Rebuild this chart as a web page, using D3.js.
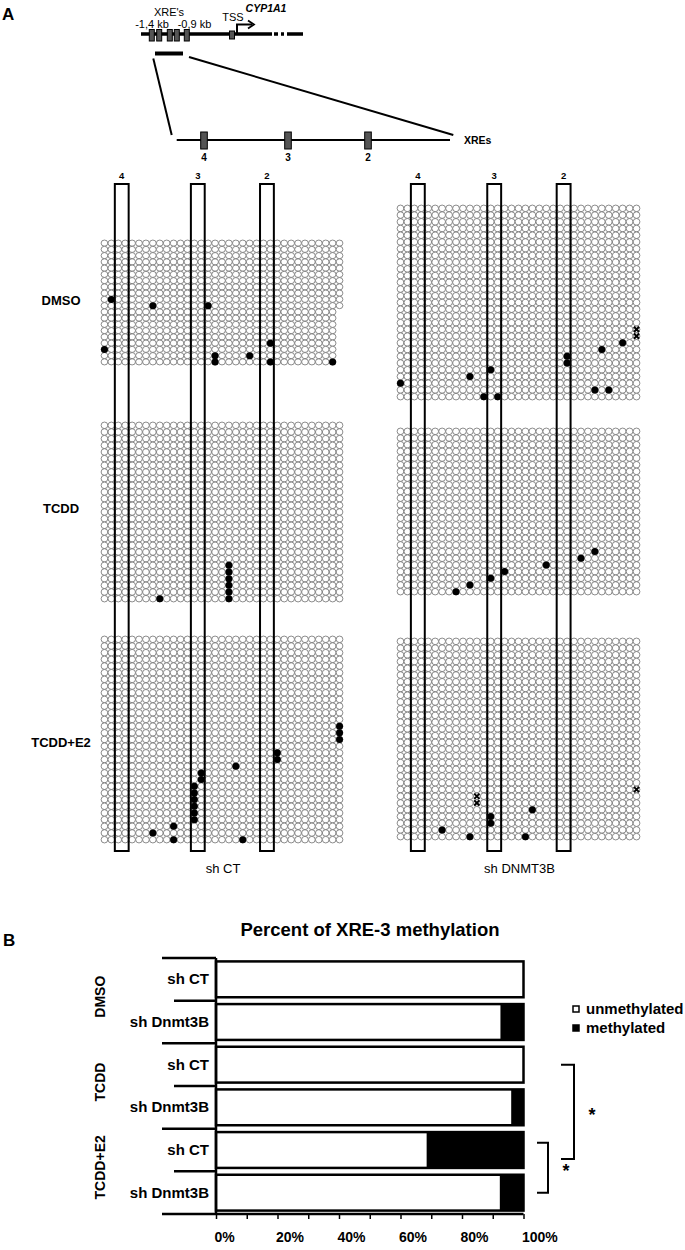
<!DOCTYPE html>
<html>
<head>
<meta charset="utf-8">
<script src="https://cdn.jsdelivr.net/npm/d3@7"></script>
<style>
  body { margin: 0; background: #fff; }
  text { font-family: "Liberation Sans", Arial, sans-serif; }
  .narrow { font-family: "Liberation Sans Narrow", "Liberation Sans", Arial, sans-serif; font-weight: bold; }
</style>
</head>
<body>
<script>
// ---------- data ----------
const treatments = ["DMSO", "TCDD", "TCDD+E2"];
const panelLines = ["sh CT", "sh DNMT3B"];
const xreSites = ["4", "3", "2"];
const xreCols = [[2, 3], [13, 14], [23, 24]];   // CpG columns inside each XRE box
const cpgCols = 35;

// number of sequenced clones (rows) per grid: [DMSO, TCDD, TCDD+E2]
const rowsShCt = [20, 27, 31];
const rowsShDn = [29, 25, 30];
const shCtDmsoShortFrom = 11;   // clones from this row on miss the last CpG

// methylated CpGs as [column, row]
const shCtDmso = [[1, 9], [7, 10], [15, 10], [0, 17], [16, 18], [16, 19], [21, 18], [24, 16], [24, 19], [33, 19]];
const shCtTcdd = [[8, 26], [18, 21], [18, 22], [18, 23], [18, 24], [18, 25], [18, 26]];
const shCtE2 = [[34, 13], [34, 14], [34, 15], [25, 17], [25, 18], [19, 19], [14, 20], [14, 21],
  [13, 22], [13, 23], [13, 24], [13, 25], [13, 26], [13, 27], [10, 28], [7, 29], [10, 30], [20, 30]];
const shDnDmso = [[0, 26], [10, 25], [13, 24], [12, 28], [14, 28], [24, 22], [24, 23], [29, 21], [32, 20], [28, 27], [30, 27]];
const shDnTcdd = [[8, 24], [10, 23], [13, 22], [15, 21], [21, 20], [26, 19], [28, 18]];
const shDnE2 = [[6, 28], [10, 29], [13, 26], [13, 27], [19, 25], [18, 29]];
// undetermined CpGs (drawn as x)
const unknownShDnDmso = [[34, 18], [34, 19]];
const unknownShDnE2 = [[11, 23], [11, 24], [34, 22]];

// panel B
const barTreatment = ["DMSO", "DMSO", "TCDD", "TCDD", "TCDD+E2", "TCDD+E2"];
const barLine = ["sh CT", "sh Dnmt3B", "sh CT", "sh Dnmt3B", "sh CT", "sh Dnmt3B"];
const methylatedPct = [0, 7.5, 0, 4, 31.5, 7.7];
const pctTicks = [0, 10, 20, 30, 40, 50, 60, 70, 80, 90, 100];
const legendLabels = ["unmethylated", "methylated"];

// ---------- drawing ----------
const svg = d3.select("body").append("svg").attr("width", 685).attr("height", 1250);

let drawGene = () => {
  const g = svg.append("g");
  g.append("text").attr("x", 2).attr("y", 20).attr("font-size", 17).attr("font-weight", "bold").text("A");

  g.append("line").attr("x1", 141).attr("x2", 272).attr("y1", 34).attr("y2", 34)
    .attr("stroke", "#000").attr("stroke-width", 3.5);
  g.append("line").attr("x1", 272).attr("x2", 303).attr("y1", 34).attr("y2", 34)
    .attr("stroke", "#000").attr("stroke-width", 3.5).attr("stroke-dasharray", "0,2,4,3,3,3,20");

  const xreX = [149.3, 156.7, 167.3, 174.3, 184.3];
  g.selectAll(".xrebox").data(xreX).enter().append("rect")
    .attr("x", d => d).attr("y", 29.5).attr("width", 5).attr("height", 11.5)
    .attr("fill", "#555").attr("stroke", "#000").attr("stroke-width", 1);
  g.append("rect").attr("x", 229.5).attr("y", 31).attr("width", 5).attr("height", 8)
    .attr("fill", "#555").attr("stroke", "#000").attr("stroke-width", 1);
  g.append("path").attr("d", "M237,34V24.5H252").attr("fill", "none").attr("stroke", "#000").attr("stroke-width", 2);
  g.append("path").attr("d", "M248,20.5L254,24.5L248,28.5").attr("fill", "none").attr("stroke", "#000").attr("stroke-width", 1.8);

  g.append("text").attr("x", 169).attr("y", 16).attr("font-size", 11).attr("text-anchor", "middle").text("XRE's");
  g.append("text").attr("x", 152).attr("y", 28).attr("font-size", 11).attr("text-anchor", "middle").text("-1,4 kb");
  g.append("text").attr("x", 194.5).attr("y", 28).attr("font-size", 11).attr("text-anchor", "middle").text("-0,9 kb");
  g.append("text").attr("x", 233).attr("y", 21).attr("font-size", 11).attr("text-anchor", "middle").text("TSS");
  g.append("text").attr("x", 266).attr("y", 12).attr("font-size", 10.5).attr("font-weight", "bold")
    .attr("font-style", "italic").attr("text-anchor", "middle").text("CYP1A1");

  g.append("rect").attr("x", 155).attr("y", 51.5).attr("width", 28).attr("height", 4).attr("fill", "#000");
  g.append("line").attr("x1", 153.3).attr("y1", 58.5).attr("x2", 171.7).attr("y2", 135)
    .attr("stroke", "#000").attr("stroke-width", 2);
  g.append("line").attr("x1", 189).attr("y1", 57).attr("x2", 453.3).attr("y2", 135)
    .attr("stroke", "#000").attr("stroke-width", 2);
  g.append("line").attr("x1", 176.7).attr("x2", 450).attr("y1", 140).attr("y2", 140)
    .attr("stroke", "#000").attr("stroke-width", 2);

  const zoomX = [204, 288, 368];
  g.selectAll(".zbox").data(zoomX).enter().append("rect")
    .attr("x", d => d - 3.3).attr("y", 132).attr("width", 6.6).attr("height", 17)
    .attr("fill", "#555").attr("stroke", "#000").attr("stroke-width", 1);
  g.selectAll(".zlab").data(xreSites).enter().append("text")
    .attr("x", (d, i) => zoomX[i]).attr("y", 161).attr("font-size", 10).attr("font-weight", "bold")
    .attr("text-anchor", "middle").text(d => d);
  g.append("text").attr("x", 464).attr("y", 144).attr("font-size", 10.5).attr("font-weight", "bold").text("XREs");
};

let drawGrid = (g, xs, top, bottom, rows, dots, unknown, shortFrom) => {
  const y = d3.scaleBand().domain(d3.range(rows)).range([top, bottom]);
  const cells = [];
  for (let r = 0; r < rows; r++) {
    const n = (shortFrom !== undefined && r >= shortFrom) ? cpgCols - 1 : cpgCols;
    for (let c = 0; c < n; c++) cells.push([c, r]);
  }
  const rx = xs.bandwidth() / 2, ry = y.bandwidth() / 2;
  g.append("g").selectAll("ellipse").data(cells).enter().append("ellipse")
    .attr("cx", d => xs(d[0]) + rx).attr("cy", d => y(d[1]) + ry)
    .attr("rx", rx - 0.1).attr("ry", ry - 0.05)
    .attr("fill", "#fff").attr("stroke", "#666").attr("stroke-width", 0.75);
  return { y, rx, ry, dots, unknown };
};

let drawPanel = (x0, x1, grids, label) => {
  const g = svg.append("g");
  const xs = d3.scaleBand().domain(d3.range(cpgCols)).range([x0, x1]);
  const made = grids.map(p => drawGrid(g, xs, p.top, p.bottom, p.rows, p.dots, p.unknown, p.shortFrom));

  // XRE boxes across the three grids
  g.selectAll(".site").data(xreCols).enter().append("rect")
    .attr("x", d => xs(d[0])).attr("y", 184)
    .attr("width", d => xs(d[1]) + xs.bandwidth() - xs(d[0])).attr("height", 667)
    .attr("fill", "none").attr("stroke", "#000").attr("stroke-width", 2);
  g.selectAll(".sitelab").data(xreSites).enter().append("text")
    .attr("x", (d, i) => xs(xreCols[i][0]) + xs.bandwidth()).attr("y", 179)
    .attr("font-size", 9.5).attr("font-weight", "bold").attr("text-anchor", "middle").text(d => d);

  made.forEach(m => {
    g.append("g").selectAll("circle").data(m.dots).enter().append("circle")
      .attr("cx", d => xs(d[0]) + m.rx).attr("cy", d => m.y(d[1]) + m.ry)
      .attr("r", 3.5).attr("fill", "#000");
    g.append("g").selectAll("path").data(m.unknown || []).enter().append("path")
      .attr("d", d => {
        const cx = xs(d[0]) + m.rx, cy = m.y(d[1]) + m.ry, s = 2.6;
        return `M${cx - s},${cy - s}L${cx + s},${cy + s}M${cx + s},${cy - s}L${cx - s},${cy + s}`;
      })
      .attr("stroke", "#000").attr("stroke-width", 2);
  });

  g.append("text").attr("x", (x0 + x1) / 2 + 1).attr("y", 873).attr("font-size", 13)
    .attr("text-anchor", "middle").text(label);
};

let drawConditionLabels = () => {
  const ys = [305, 513, 747];
  svg.selectAll(".cond").data(treatments).enter().append("text")
    .attr("x", 61).attr("y", (d, i) => ys[i]).attr("font-size", 13).attr("font-weight", "bold")
    .attr("text-anchor", "middle").text(d => d);
};

let drawPanelB = () => {
  const g = svg.append("g");
  g.append("text").attr("x", 3).attr("y", 946).attr("font-size", 17).attr("font-weight", "bold").text("B");
  g.append("text").attr("x", 370).attr("y", 936).attr("font-size", 18.5).attr("text-anchor", "middle")
    .attr("class", "narrow").text("Percent of XRE-3 methylation");

  const keys = d3.range(barLine.length);
  const top = 958, bottom = 1214;
  const y = d3.scaleBand().domain(keys).range([top, bottom]).paddingInner(0.16).paddingOuter(0.08);
  const x = d3.scaleLinear().domain([0, 100]).range([216, 523.5]);

  // unmethylated (white) and methylated (black) parts
  g.selectAll(".unm").data(keys).enter().append("rect")
    .attr("x", x(0)).attr("y", d => y(d)).attr("width", d => x(100 - methylatedPct[d]) - x(0))
    .attr("height", y.bandwidth()).attr("fill", "#fff");
  g.selectAll(".met").data(keys).enter().append("rect")
    .attr("x", d => x(100 - methylatedPct[d])).attr("y", d => y(d))
    .attr("width", d => x(100) - x(100 - methylatedPct[d])).attr("height", y.bandwidth()).attr("fill", "#000");
  g.selectAll(".outline").data(keys).enter().append("rect")
    .attr("x", x(0)).attr("y", d => y(d)).attr("width", x(100) - x(0))
    .attr("height", y.bandwidth()).attr("fill", "none").attr("stroke", "#000").attr("stroke-width", 2.5);

  // category separators on the left
  const step = (bottom - top) / keys.length;
  g.selectAll(".sep").data(d3.range(keys.length + 1)).enter().append("line")
    .attr("x1", d => d % 2 === 0 ? 162 : 174).attr("x2", x(0))
    .attr("y1", d => top + d * step).attr("y2", d => top + d * step)
    .attr("stroke", "#000").attr("stroke-width", 2.5);
  g.append("line").attr("x1", x(0)).attr("x2", x(0)).attr("y1", top).attr("y2", bottom)
    .attr("stroke", "#000").attr("stroke-width", 2.5);

  g.selectAll(".rowlab").data(keys).enter().append("text")
    .attr("x", 209).attr("y", d => y(d) + y.bandwidth() / 2 + 5).attr("font-size", 15)
    .attr("text-anchor", "end").attr("class", "narrow").text(d => barLine[d]);
  g.selectAll(".grouplab").data(treatments).enter().append("text")
    .attr("transform", (d, i) => `translate(105,${top + (2 * i + 1) * step - 4}) rotate(-90)`)
    .attr("font-size", 14).attr("font-weight", "bold").attr("text-anchor", "middle").text(d => d);

  const axis = d3.axisBottom(x).tickValues(pctTicks).tickSize(5)
    .tickFormat(d => d % 20 === 0 ? d + "%" : "");
  const ax = g.append("g").attr("transform", `translate(0,${bottom})`).call(axis);
  ax.select(".domain").attr("stroke-width", 2.5).attr("d", `M${x(0)},0H${x(100)}`);
  ax.selectAll(".tick line").attr("stroke-width", 1.5);
  ax.selectAll(".tick text").attr("class", "narrow").attr("font-size", 14).attr("fill", "#000")
    .attr("text-anchor", "start").attr("dx", -2).attr("y", 18);

  // legend
  const leg = g.selectAll(".leg").data(legendLabels).enter().append("g")
    .attr("transform", (d, i) => `translate(573,${1006 + i * 19})`);
  leg.append("rect").attr("x", 0).attr("y", 0).attr("width", 6).attr("height", 6)
    .attr("fill", (d, i) => i === 0 ? "#fff" : "#000").attr("stroke", "#000").attr("stroke-width", 1.5);
  leg.append("text").attr("x", 13).attr("y", 7.5).attr("font-size", 15).attr("class", "narrow").text(d => d);

  // significance brackets: between bar indices
  const brackets = [[2, 4, 574, 561], [4, 5, 548, 537]];
  brackets.forEach(([a, b, bx, tx]) => {
    const ya = y(a) + (a === 2 ? y.bandwidth() / 2 : y.bandwidth() * 0.3);
    const yb = y(b) + (b === 4 ? y.bandwidth() * 0.75 : y.bandwidth() / 2);
    g.append("path").attr("d", `M${tx},${ya}H${bx}V${yb}H${tx}`)
      .attr("fill", "none").attr("stroke", "#000").attr("stroke-width", 2);
    g.append("text").attr("x", bx + 18).attr("y", (ya + yb) / 2 + 9).attr("font-size", 18)
      .attr("font-weight", "bold").attr("text-anchor", "middle").text("*");
  });
};

drawGene();
drawPanel(101, 343, [
  { top: 240, bottom: 365, rows: rowsShCt[0], dots: shCtDmso, shortFrom: shCtDmsoShortFrom },
  { top: 422, bottom: 602, rows: rowsShCt[1], dots: shCtTcdd },
  { top: 636, bottom: 843, rows: rowsShCt[2], dots: shCtE2 }
], panelLines[0]);
drawPanel(397, 640, [
  { top: 205, bottom: 400, rows: rowsShDn[0], dots: shDnDmso, unknown: unknownShDnDmso },
  { top: 428, bottom: 595, rows: rowsShDn[1], dots: shDnTcdd },
  { top: 638, bottom: 840, rows: rowsShDn[2], dots: shDnE2, unknown: unknownShDnE2 }
], panelLines[1]);
drawConditionLabels();
drawPanelB();
</script>
</body>
</html>
